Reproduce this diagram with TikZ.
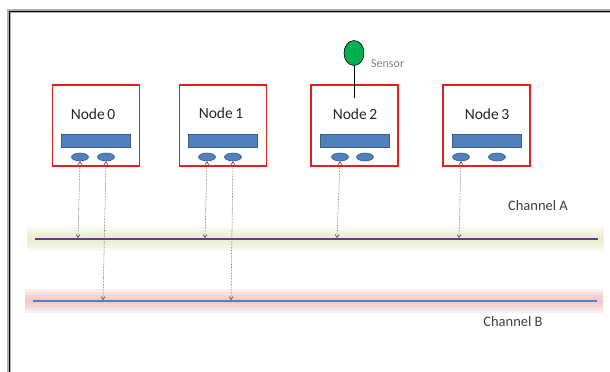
\documentclass[tikz,border=0pt]{standalone}
\usepackage{fontspec}
\setmainfont{Carlito}
\usetikzlibrary{arrows.meta,shapes.geometric}
\definecolor{boxred}{HTML}{E41E1E}
\definecolor{barblue}{HTML}{4F81BD}
\definecolor{bardark}{HTML}{385D8A}
\definecolor{chanA}{HTML}{7030A0}
\definecolor{chanB}{HTML}{4F81BD}
\definecolor{glowA}{HTML}{E8F0CF}
\definecolor{glowB}{HTML}{F2CACA}
\definecolor{sensorgreen}{HTML}{00B050}
\definecolor{linkgray}{HTML}{34405A}
\definecolor{textgray}{HTML}{404040}
\tikzset{
  unit/.style={draw=boxred, line width=1.6bp, fill=white, minimum width=87bp,
    minimum height=81bp, inner sep=0pt},
  bar/.style={draw=bardark, fill=barblue, line width=0.6bp, minimum width=69bp,
    minimum height=13bp, inner sep=0pt},
  port/.style={ellipse, draw=bardark, fill=barblue, line width=0.6bp,
    minimum width=17bp, minimum height=8bp, inner sep=0pt},
  nodetext/.style={font=\fontsize{15.5bp}{17bp}\selectfont, text=black!85, inner sep=0pt},
  chantext/.style={font=\fontsize{14.5bp}{16bp}\selectfont, text=textgray, inner sep=0pt},
  link/.style={densely dotted, line width=0.55bp, linkgray,
    {Straight Barb[length=3bp,width=4bp]}-{Straight Barb[length=3bp,width=4bp]}},
  glowline/.style={line width=#1, line cap=butt},
}
\begin{document}
\begin{tikzpicture}[x=1bp,y=-1bp]
\useasboundingbox (0,0) rectangle (610,371);
\fill[white] (0,0) rectangle (610,371);

% outer frame, running off the right and bottom edges
\draw[gray!60, line width=3.2bp] (9,11) rectangle (640,400);
\draw[black, line width=1.4bp] (9.5,11.5) rectangle (640,400);

% channel endpoints
\coordinate (chA-w) at (35,239);
\coordinate (chA-e) at (598,239);
\coordinate (chB-w) at (33,301);
\coordinate (chB-e) at (597,301);

% soft glow round the channels
\foreach \w/\o in {24/0.3, 18/0.4, 12/0.55, 6/0.75} {
  \draw[glowA, opacity=\o, glowline=\w bp] ([xshift=-8bp]chA-w) -- ([xshift=6bp]chA-e);
  \draw[glowB, opacity=\o, glowline=\w bp] ([xshift=-8bp]chB-w) -- ([xshift=6bp]chB-e);
}
\draw[chanA, line width=2bp] (chA-w) -- (chA-e);
\draw[chanB, line width=2bp] (chB-w) -- (chB-e);

\node[chantext] (labA) at (538,206) {Channel A};
\node[chantext] (labB) at (513,322) {Channel B};

% sensor on node 2
\node[ellipse, draw=black, line width=0.6bp, fill=sensorgreen, minimum width=20bp,
  minimum height=25bp, inner sep=0pt] (sensor) at (354,53) {};
\node[font=\fontsize{12bp}{14bp}\selectfont, text=gray, inner sep=0pt, anchor=west]
  (sensortext) at (371,64) {Sensor};

% the four nodes
\node[unit] (n0) at (96,125.5) {};
\node[unit] (n1) at (223,125.5) {};
\node[unit] (n2) at (354.5,125.5) {};
\node[unit] (n3) at (486.5,125.5) {};

\coordinate (sensorfoot) at (354,98);
\draw[black, line width=0.8bp] (sensor.south) -- (sensorfoot);

\node[nodetext] (t0) at (93,114) {Node\,0};
\node[nodetext] (t1) at (221,113) {Node\,1};
\node[nodetext] (t2) at (355,114) {Node\,2};
\node[nodetext] (t3) at (487,114) {Node\,3};

\node[bar] (b0) at (96,141) {};
\node[bar] (b1) at (223,140.5) {};
\node[bar] (b2) at (354.5,141) {};
\node[bar] (b3) at (486.5,141) {};

\node[port] (p0a) at (80,157) {};
\node[port] (p0b) at (106,157) {};
\node[port] (p1a) at (207,157) {};
\node[port] (p1b) at (233,157) {};
\node[port] (p2a) at (340,157) {};
\node[port] (p2b) at (365,157) {};
\node[port] (p3a) at (461,157) {};
\node[port] (p3b) at (497,157) {};

% taps onto the channels
\coordinate (a0) at (78,238);
\coordinate (a1) at (205,238);
\coordinate (a2) at (337,238);
\coordinate (a3) at (459,238);
\coordinate (bb0) at (103,300);
\coordinate (bb1) at (231,300);

\draw[link] (p0a.south) -- (a0);
\draw[link] (p1a.south) -- (a1);
\draw[link] (p2a.south) -- (a2);
\draw[link] (p3a.south) -- (a3);
\draw[link] (p0b.south) -- (bb0);
\draw[link] (p1b.south) -- (bb1);
\end{tikzpicture}
\end{document}
